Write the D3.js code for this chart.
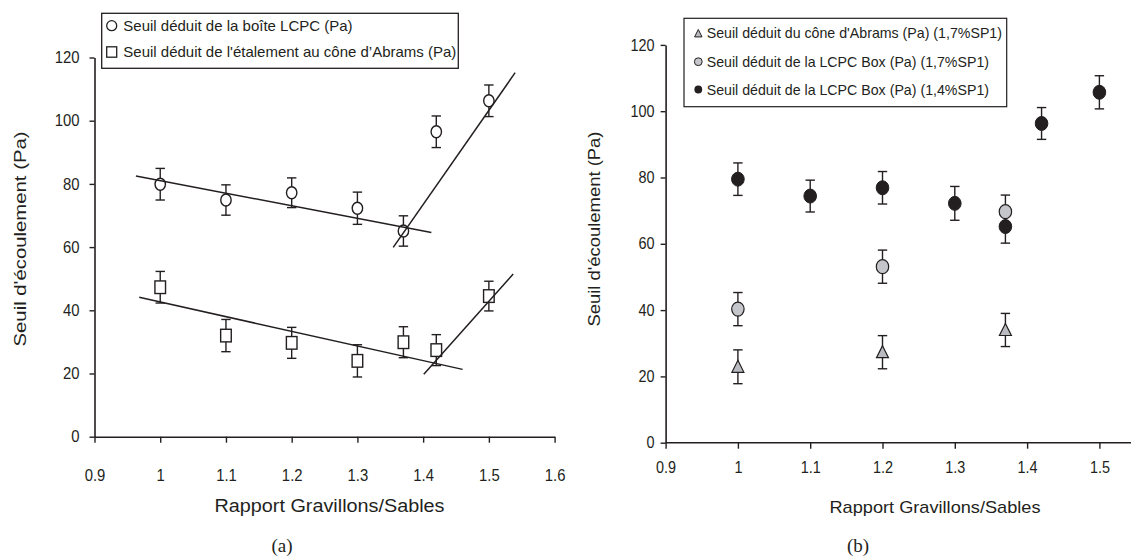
<!DOCTYPE html>
<html>
<head>
<meta charset="utf-8">
<script src="https://cdn.jsdelivr.net/npm/d3@7"></script>
<style>
  html, body { margin: 0; padding: 0; background: #fff; }
  svg { display: block; }
  text { font-family: "Liberation Sans", Arial, sans-serif; fill: #231f20; }
</style>
</head>
<body>
<svg id="chart" width="1131" height="560"></svg>
<script>
// ---------- DATA ----------
const xTicksA = [0.9, 1.0, 1.1, 1.2, 1.3, 1.4, 1.5, 1.6];
const xTicksB = [0.9, 1.0, 1.1, 1.2, 1.3, 1.4, 1.5];
const yTicks = [0, 20, 40, 60, 80, 100, 120];

// Panel (a)
const ratioA = [1.0, 1.1, 1.2, 1.3, 1.37, 1.42, 1.5];
const lcpcA = [79.9, 74.9, 77.2, 72.3, 65.1, 96.5, 106.3];
const lcpcErrA = [5.0, 4.8, 4.7, 5.1, 4.8, 5.0, 5.0];
const abramsA = [47.3, 32.0, 29.7, 24.0, 29.9, 27.4, 44.5];
const abramsErrA = [5.0, 5.1, 4.9, 5.1, 4.9, 4.9, 4.7];

// trend lines (a) : end points
const fitLcpcDownX = [0.963, 1.4125], fitLcpcDownY = [82.5, 64.6];
const fitLcpcUpX = [1.3545, 1.540], fitLcpcUpY = [59.9, 115.2];
const fitAbrDownX = [0.968, 1.46], fitAbrDownY = [44.1, 21.3];
const fitAbrUpX = [1.401, 1.537], fitAbrUpY = [19.8, 51.5];

// Panel (b)
const ratioB14 = [1.0, 1.1, 1.2, 1.3, 1.37, 1.42, 1.5];
const lcpc14B = [79.5, 74.4, 76.9, 72.2, 65.2, 96.3, 105.7];
const lcpc14ErrB = [4.9, 4.8, 4.9, 5.1, 5.0, 4.8, 5.0];
const ratioB17 = [1.0, 1.2, 1.37];
const lcpc17B = [40.3, 53.1, 69.7];
const lcpc17ErrB = [5.0, 5.0, 5.0];
const abrams17B = [22.9, 27.3, 34.0];
const abrams17ErrB = [5.1, 5.0, 5.0];

const legendA = ["Seuil déduit de la boîte LCPC (Pa)", "Seuil déduit de l'étalement au cône d’Abrams (Pa)"];
const legendB = ["Seuil déduit du cône d'Abrams (Pa) (1,7%SP1)", "Seuil déduit de la LCPC Box (Pa) (1,7%SP1)", "Seuil déduit de la LCPC Box (Pa) (1,4%SP1)"];
const xTitle = "Rapport Gravillons/Sables";
const yTitle = "Seuil d'écoulement (Pa)";

// ---------- DRAW ----------
const INK = "#231f20";
const GREY = "#c4c6cb";
const svg = d3.select("#chart");

function squeeze(sel, f) {
  sel.each(function () {
    const L = this.getComputedTextLength();
    this.setAttribute("textLength", L * f);
    this.setAttribute("lengthAdjust", "spacingAndGlyphs");
  });
}
function fitTo(sel, w) {
  sel.attr("textLength", w).attr("lengthAdjust", "spacingAndGlyphs");
}
const fmt = d => String(+d.toFixed(1));

function drawAxes(g, x, y, opt) {
  const xa = g.append("g").attr("transform", `translate(0,${y(0)})`)
    .call(d3.axisBottom(x).tickValues(opt.xTicks).tickFormat(fmt).tickSize(6).tickSizeOuter(0).tickPadding(opt.xPad));
  const ya = g.append("g").attr("transform", `translate(${x(0.9)},0)`)
    .call(d3.axisLeft(y).tickValues(yTicks).tickSize(5).tickSizeOuter(0).tickPadding(opt.yPad));
  [xa, ya].forEach(a => {
    a.select(".domain").attr("stroke", INK).attr("stroke-width", 1.6);
    a.selectAll(".tick line").attr("stroke", INK).attr("stroke-width", 1.4);
    a.selectAll(".tick text").attr("font-size", opt.tickFont).attr("fill", INK)
      .style("font-family", '"Liberation Sans", Arial, sans-serif');
    squeeze(a.selectAll(".tick text"), 0.9);
  });
  if (opt.xEnd) {
    xa.select(".domain").attr("d", `M${x(0.9)},0H${opt.xEnd}`);
  }
}

function errBars(g, x, y, xs, vs, es, cap) {
  const gg = g.append("g").attr("stroke", INK).attr("stroke-width", 1.4).attr("fill", "none");
  xs.forEach((xv, i) => {
    const cx = x(xv), t = y(vs[i] + es[i]), b = y(vs[i] - es[i]);
    gg.append("line").attr("x1", cx).attr("x2", cx).attr("y1", t).attr("y2", b);
    gg.append("line").attr("x1", cx - cap).attr("x2", cx + cap).attr("y1", t).attr("y2", t);
    gg.append("line").attr("x1", cx - cap).attr("x2", cx + cap).attr("y1", b).attr("y2", b);
  });
}

// ===== Panel (a) =====
const xA = d3.scaleLinear().domain([0.9, 1.6]).range([94.5, 554.6]);
const yA = d3.scaleLinear().domain([0, 120]).range([436.7, 57.5]);
const gA = svg.append("g");
drawAxes(gA, xA, yA, { xTicks: xTicksA, xPad: 27, yPad: 10, tickFont: 16.5 });

errBars(gA, xA, yA, ratioA, lcpcA, lcpcErrA, 4.7);
errBars(gA, xA, yA, ratioA, abramsA, abramsErrA, 4.7);

gA.append("g").selectAll("ellipse").data(ratioA).join("ellipse")
  .attr("cx", d => xA(d)).attr("cy", (d, i) => yA(lcpcA[i]))
  .attr("rx", 5.2).attr("ry", 6).attr("fill", "#fff").attr("stroke", INK).attr("stroke-width", 1.4);
gA.append("g").selectAll("rect").data(ratioA).join("rect")
  .attr("x", d => xA(d) - 5.3).attr("y", (d, i) => yA(abramsA[i]) - 6.3)
  .attr("width", 10.6).attr("height", 12.6).attr("fill", "#fff").attr("stroke", INK).attr("stroke-width", 1.4);

const lineGen = (x, y) => d3.line().x(d => x(d[0])).y(d => y(d[1]));
[[fitLcpcDownX, fitLcpcDownY], [fitLcpcUpX, fitLcpcUpY], [fitAbrDownX, fitAbrDownY], [fitAbrUpX, fitAbrUpY]]
  .forEach(([xs, ys]) => {
    gA.append("path").attr("d", lineGen(xA, yA)(xs.map((v, i) => [v, ys[i]])))
      .attr("fill", "none").attr("stroke", INK).attr("stroke-width", 1.5);
  });

// legend (a)
const lgA = gA.append("g");
lgA.append("rect").attr("x", 101.7).attr("y", 13.3).attr("width", 356.6).attr("height", 55)
  .attr("fill", "#fff").attr("stroke", INK).attr("stroke-width", 1.3);
lgA.append("circle").attr("cx", 111.7).attr("cy", 25.7).attr("r", 5).attr("fill", "#fff").attr("stroke", INK).attr("stroke-width", 1.3);
lgA.append("rect").attr("x", 106.7).attr("y", 46.8).attr("width", 10).attr("height", 10.4).attr("fill", "#fff").attr("stroke", INK).attr("stroke-width", 1.3);
lgA.selectAll("text.leg").data(legendA).join("text").attr("class", "leg")
  .attr("x", 123.3).attr("y", (d, i) => 30.7 + i * 26.3).attr("font-size", 15).text(d => d);

// titles (a)
fitTo(gA.append("text").attr("x", 329.5).attr("y", 511.7).attr("text-anchor", "middle").attr("font-size", 17.5).text(xTitle), 230);
fitTo(gA.append("text").attr("transform", "translate(26,239) rotate(-90)").attr("text-anchor", "middle").attr("font-size", 17).text(yTitle), 215);
gA.append("text").attr("x", 282).attr("y", 552).attr("text-anchor", "middle")
  .style("font-family", '"Liberation Serif", "Times New Roman", serif').attr("font-size", 19).text("(a)");

// ===== Panel (b) =====
const xB = d3.scaleLinear().domain([0.9, 1.6]).range([665.6, 1171.7]);
const yB = d3.scaleLinear().domain([0, 120]).range([442.7, 44.9]);
const gB = svg.append("g");
drawAxes(gB, xB, yB, { xTicks: xTicksB, xPad: 13, yPad: 6, tickFont: 16, xEnd: 1131 });

errBars(gB, xB, yB, ratioB17, abrams17B, abrams17ErrB, 4.7);
errBars(gB, xB, yB, ratioB17, lcpc17B, lcpc17ErrB, 4.7);
errBars(gB, xB, yB, ratioB14, lcpc14B, lcpc14ErrB, 4.7);

const tri = (s) => `M0,${-6.5 * s}L${6 * s},${5.5 * s}L${-6 * s},${5.5 * s}Z`;
gB.append("g").selectAll("path").data(ratioB17).join("path")
  .attr("transform", (d, i) => `translate(${xB(d)},${yB(abrams17B[i])})`)
  .attr("d", tri(1)).attr("fill", "#b9bbc0").attr("stroke", INK).attr("stroke-width", 1.2);
gB.append("g").selectAll("ellipse").data(ratioB17).join("ellipse")
  .attr("cx", d => xB(d)).attr("cy", (d, i) => yB(lcpc17B[i]))
  .attr("rx", 6.2).attr("ry", 7).attr("fill", GREY).attr("stroke", INK).attr("stroke-width", 1.2);
gB.append("g").selectAll("ellipse").data(ratioB14).join("ellipse")
  .attr("cx", d => xB(d)).attr("cy", (d, i) => yB(lcpc14B[i]))
  .attr("rx", 6.3).attr("ry", 7).attr("fill", INK).attr("stroke", INK).attr("stroke-width", 1);

// legend (b)
const lgB = gB.append("g");
lgB.append("rect").attr("x", 684).attr("y", 18.3).attr("width", 322.7).attr("height", 88.4)
  .attr("fill", "#fff").attr("stroke", INK).attr("stroke-width", 1.2);
lgB.append("path").attr("transform", "translate(698.3,33.5)").attr("d", tri(0.62))
  .attr("fill", "#b9bbc0").attr("stroke", INK).attr("stroke-width", 1);
lgB.append("circle").attr("cx", 698.3).attr("cy", 61.7).attr("r", 3.9).attr("fill", GREY).attr("stroke", INK).attr("stroke-width", 1);
lgB.append("circle").attr("cx", 698.3).attr("cy", 89.5).attr("r", 3.9).attr("fill", INK);
lgB.selectAll("text.leg").data(legendB).join("text").attr("class", "leg")
  .attr("x", 706.7).attr("y", (d, i) => 38.3 + i * 28.3).attr("font-size", 14.2).text(d => d);

fitTo(gB.append("text").attr("x", 935).attr("y", 512.7).attr("text-anchor", "middle").attr("font-size", 17).text(xTitle), 211);
fitTo(gB.append("text").attr("transform", "translate(600,229) rotate(-90)").attr("text-anchor", "middle").attr("font-size", 16.5).text(yTitle), 195);
gB.append("text").attr("x", 858).attr("y", 552).attr("text-anchor", "middle")
  .style("font-family", '"Liberation Serif", "Times New Roman", serif').attr("font-size", 19).text("(b)");
</script>
</body>
</html>
